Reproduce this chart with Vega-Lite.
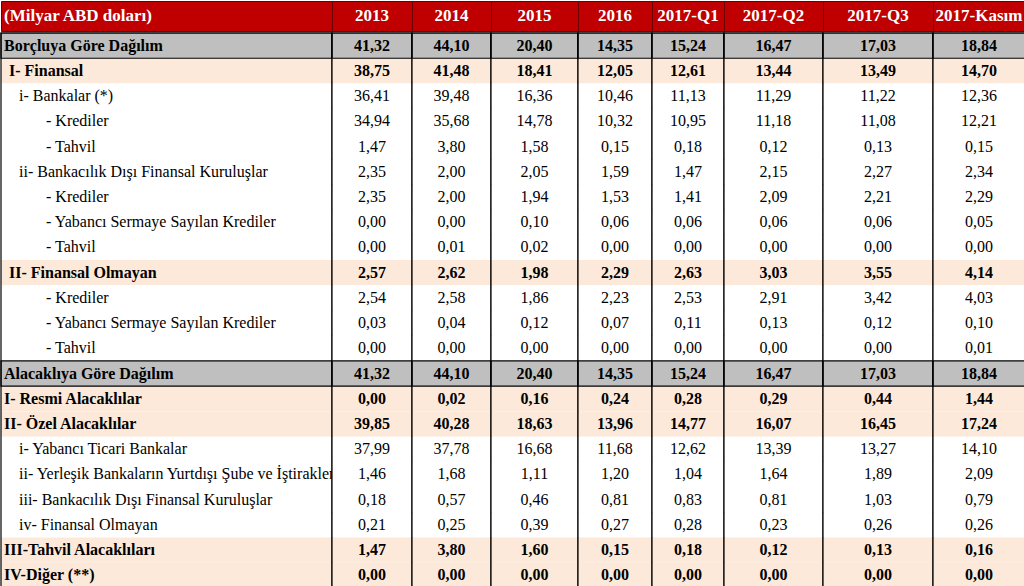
{
"$schema": "https://vega.github.io/schema/vega-lite/v6.json",
"padding": 0,
"spacing": 0,
"config": {"font": "Liberation Serif", "concat": {"spacing": 0}, "view": {"stroke": null}, "locale": {"number": {"decimal": ",", "thousands": ".", "grouping": [3], "currency": ["", " TL"]}}, "text": {"font": "Liberation Serif", "fontSize": 16, "color": "#000"}},
"datasets": {"tbl": [
{"r":1,"label":"Borçluya Göre Dağılım","kind":"gray","level":0,"v13":41.32,"v14":44.10,"v15":20.40,"v16":14.35,"q1":15.24,"q2":16.47,"q3":17.03,"nov":18.84},
{"r":2,"label":"I- Finansal","kind":"peach","level":1,"v13":38.75,"v14":41.48,"v15":18.41,"v16":12.05,"q1":12.61,"q2":13.44,"q3":13.49,"nov":14.70},
{"r":3,"label":"i- Bankalar (*)","kind":"white","level":2,"v13":36.41,"v14":39.48,"v15":16.36,"v16":10.46,"q1":11.13,"q2":11.29,"q3":11.22,"nov":12.36},
{"r":4,"label":"- Krediler","kind":"white","level":3,"v13":34.94,"v14":35.68,"v15":14.78,"v16":10.32,"q1":10.95,"q2":11.18,"q3":11.08,"nov":12.21},
{"r":5,"label":"- Tahvil","kind":"white","level":3,"v13":1.47,"v14":3.80,"v15":1.58,"v16":0.15,"q1":0.18,"q2":0.12,"q3":0.13,"nov":0.15},
{"r":6,"label":"ii- Bankacılık Dışı Finansal Kuruluşlar","kind":"white","level":2,"v13":2.35,"v14":2.00,"v15":2.05,"v16":1.59,"q1":1.47,"q2":2.15,"q3":2.27,"nov":2.34},
{"r":7,"label":"- Krediler","kind":"white","level":3,"v13":2.35,"v14":2.00,"v15":1.94,"v16":1.53,"q1":1.41,"q2":2.09,"q3":2.21,"nov":2.29},
{"r":8,"label":"- Yabancı Sermaye Sayılan Krediler","kind":"white","level":3,"v13":0.00,"v14":0.00,"v15":0.10,"v16":0.06,"q1":0.06,"q2":0.06,"q3":0.06,"nov":0.05},
{"r":9,"label":"- Tahvil","kind":"white","level":3,"v13":0.00,"v14":0.01,"v15":0.02,"v16":0.00,"q1":0.00,"q2":0.00,"q3":0.00,"nov":0.00},
{"r":10,"label":"II- Finansal Olmayan","kind":"peach","level":1,"v13":2.57,"v14":2.62,"v15":1.98,"v16":2.29,"q1":2.63,"q2":3.03,"q3":3.55,"nov":4.14},
{"r":11,"label":"- Krediler","kind":"white","level":3,"v13":2.54,"v14":2.58,"v15":1.86,"v16":2.23,"q1":2.53,"q2":2.91,"q3":3.42,"nov":4.03},
{"r":12,"label":"- Yabancı Sermaye Sayılan Krediler","kind":"white","level":3,"v13":0.03,"v14":0.04,"v15":0.12,"v16":0.07,"q1":0.11,"q2":0.13,"q3":0.12,"nov":0.10},
{"r":13,"label":"- Tahvil","kind":"white","level":3,"v13":0.00,"v14":0.00,"v15":0.00,"v16":0.00,"q1":0.00,"q2":0.00,"q3":0.00,"nov":0.01},
{"r":14,"label":"Alacaklıya Göre Dağılım","kind":"gray","level":0,"v13":41.32,"v14":44.10,"v15":20.40,"v16":14.35,"q1":15.24,"q2":16.47,"q3":17.03,"nov":18.84},
{"r":15,"label":"I- Resmi Alacaklılar","kind":"peach","level":0,"v13":0.00,"v14":0.02,"v15":0.16,"v16":0.24,"q1":0.28,"q2":0.29,"q3":0.44,"nov":1.44},
{"r":16,"label":"II- Özel Alacaklılar","kind":"peach","level":0,"v13":39.85,"v14":40.28,"v15":18.63,"v16":13.96,"q1":14.77,"q2":16.07,"q3":16.45,"nov":17.24},
{"r":17,"label":"i- Yabancı Ticari Bankalar","kind":"white","level":2,"v13":37.99,"v14":37.78,"v15":16.68,"v16":11.68,"q1":12.62,"q2":13.39,"q3":13.27,"nov":14.10},
{"r":18,"label":"ii- Yerleşik Bankaların Yurtdışı Şube ve İştirakleri","kind":"white","level":2,"v13":1.46,"v14":1.68,"v15":1.11,"v16":1.20,"q1":1.04,"q2":1.64,"q3":1.89,"nov":2.09},
{"r":19,"label":"iii- Bankacılık Dışı Finansal Kuruluşlar","kind":"white","level":2,"v13":0.18,"v14":0.57,"v15":0.46,"v16":0.81,"q1":0.83,"q2":0.81,"q3":1.03,"nov":0.79},
{"r":20,"label":"iv- Finansal Olmayan","kind":"white","level":2,"v13":0.21,"v14":0.25,"v15":0.39,"v16":0.27,"q1":0.28,"q2":0.23,"q3":0.26,"nov":0.26},
{"r":21,"label":"III-Tahvil Alacaklıları","kind":"peach","level":0,"v13":1.47,"v14":3.80,"v15":1.60,"v16":0.15,"q1":0.18,"q2":0.12,"q3":0.13,"nov":0.16},
{"r":22,"label":"IV-Diğer (**)","kind":"peach","level":0,"v13":0.00,"v14":0.00,"v15":0.00,"v16":0.00,"q1":0.00,"q2":0.00,"q3":0.00,"nov":0.00}
]},
"vconcat": [
{"spacing": 0, "bounds": "flush", "hconcat": [
{"width":331,"height":30,"data":{"values":[{"h":"(Milyar ABD doları)"}]},"view":{"fill":"#c00000","stroke":"#6a0000"},"mark":{"type":"text","font":"Liberation Serif","fontSize":17,"color":"#fff","fontWeight":"bold","align":"left","dx":3},"encoding":{"x":{"value":0},"text":{"field":"h"}}},
{"width":80,"height":30,"data":{"values":[{"h":"2013"}]},"view":{"fill":"#c00000","stroke":"#6a0000"},"mark":{"type":"text","font":"Liberation Serif","fontSize":17,"color":"#fff","fontWeight":"bold"},"encoding":{"text":{"field":"h"}}},
{"width":79,"height":30,"data":{"values":[{"h":"2014"}]},"view":{"fill":"#c00000","stroke":"#6a0000"},"mark":{"type":"text","font":"Liberation Serif","fontSize":17,"color":"#fff","fontWeight":"bold"},"encoding":{"text":{"field":"h"}}},
{"width":87,"height":30,"data":{"values":[{"h":"2015"}]},"view":{"fill":"#c00000","stroke":"#6a0000"},"mark":{"type":"text","font":"Liberation Serif","fontSize":17,"color":"#fff","fontWeight":"bold"},"encoding":{"text":{"field":"h"}}},
{"width":74,"height":30,"data":{"values":[{"h":"2016"}]},"view":{"fill":"#c00000","stroke":"#6a0000"},"mark":{"type":"text","font":"Liberation Serif","fontSize":17,"color":"#fff","fontWeight":"bold"},"encoding":{"text":{"field":"h"}}},
{"width":72,"height":30,"data":{"values":[{"h":"2017-Q1"}]},"view":{"fill":"#c00000","stroke":"#6a0000"},"mark":{"type":"text","font":"Liberation Serif","fontSize":17,"color":"#fff","fontWeight":"bold"},"encoding":{"text":{"field":"h"}}},
{"width":99,"height":30,"data":{"values":[{"h":"2017-Q2"}]},"view":{"fill":"#c00000","stroke":"#6a0000"},"mark":{"type":"text","font":"Liberation Serif","fontSize":17,"color":"#fff","fontWeight":"bold"},"encoding":{"text":{"field":"h"}}},
{"width":110,"height":30,"data":{"values":[{"h":"2017-Q3"}]},"view":{"fill":"#c00000","stroke":"#6a0000"},"mark":{"type":"text","font":"Liberation Serif","fontSize":17,"color":"#fff","fontWeight":"bold"},"encoding":{"text":{"field":"h"}}},
{"width":92,"height":30,"data":{"values":[{"h":"2017-Kasım"}]},"view":{"fill":"#c00000","stroke":"#6a0000"},"mark":{"type":"text","font":"Liberation Serif","fontSize":17,"color":"#fff","fontWeight":"bold"},"encoding":{"text":{"field":"h"}}}
]},
{"spacing": 0, "bounds": "flush", "hconcat": [
{"width":331,"height":555,"data":{"name":"tbl"},"layer":[
 {"mark":"rect","encoding":{"y":{"field":"r","type":"ordinal","axis":null,"scale":{"paddingInner":0,"paddingOuter":0}},"fill":{"field":"kind","type":"nominal","scale":{"domain":["gray","peach","white"],"range":["#bfbfbf","#fde9d9","#ffffff"]},"legend":null}}},
 {"transform":[{"filter":"datum.kind=='gray'"}],"mark":{"type":"rect","fill":"transparent","stroke":"#000","strokeWidth":1.2},"encoding":{"y":{"field":"r","type":"ordinal","axis":null}}},
 {"transform":[{"filter":"datum.kind!='white'"}],"mark":{"type":"text","font":"Liberation Serif","fontSize":16,"fontWeight":"bold","align":"left","clip":true},"encoding":{"y":{"field":"r","type":"ordinal","axis":null},"x":{"field":"level","type":"quantitative","axis":null,"scale":{"domain":[0,1,2,3],"range":[3,8,18,45]}},"text":{"field":"label"}}},
 {"transform":[{"filter":"datum.kind=='white'"}],"mark":{"type":"text","font":"Liberation Serif, Times New Roman, DejaVu Serif, serif","fontSize":16,"fontWeight":"normal","align":"left","clip":true},"encoding":{"y":{"field":"r","type":"ordinal","axis":null},"x":{"field":"level","type":"quantitative","axis":null},"text":{"field":"label"}}},
 {"data":{"values":[{"cell":1}]},"mark":{"type":"rect","fill":"transparent","stroke":"#000","strokeWidth":1.2}}
]},
{"width":80,"height":555,"data":{"name":"tbl"},"layer":[
 {"mark":"rect","encoding":{"y":{"field":"r","type":"ordinal","axis":null,"scale":{"paddingInner":0,"paddingOuter":0}},"fill":{"field":"kind","type":"nominal","scale":{"domain":["gray","peach","white"],"range":["#bfbfbf","#fde9d9","#ffffff"]},"legend":null}}},
 {"transform":[{"filter":"datum.kind=='gray'"}],"mark":{"type":"rect","fill":"transparent","stroke":"#000","strokeWidth":1.2},"encoding":{"y":{"field":"r","type":"ordinal","axis":null}}},
 {"transform":[{"filter":"datum.kind!='white'"}],"mark":{"type":"text","font":"Liberation Serif","fontSize":16,"fontWeight":"bold"},"encoding":{"y":{"field":"r","type":"ordinal","axis":null},"text":{"field":"v13","type":"quantitative","format":".2f"}}},
 {"transform":[{"filter":"datum.kind=='white'"}],"mark":{"type":"text","font":"Liberation Serif, Times New Roman, DejaVu Serif, serif","fontSize":16,"fontWeight":"normal"},"encoding":{"y":{"field":"r","type":"ordinal","axis":null},"text":{"field":"v13","type":"quantitative","format":".2f"}}},
 {"data":{"values":[{"cell":1}]},"mark":{"type":"rect","fill":"transparent","stroke":"#000","strokeWidth":1.2}}
]},
{"width":79,"height":555,"data":{"name":"tbl"},"layer":[
 {"mark":"rect","encoding":{"y":{"field":"r","type":"ordinal","axis":null,"scale":{"paddingInner":0,"paddingOuter":0}},"fill":{"field":"kind","type":"nominal","scale":{"domain":["gray","peach","white"],"range":["#bfbfbf","#fde9d9","#ffffff"]},"legend":null}}},
 {"transform":[{"filter":"datum.kind=='gray'"}],"mark":{"type":"rect","fill":"transparent","stroke":"#000","strokeWidth":1.2},"encoding":{"y":{"field":"r","type":"ordinal","axis":null}}},
 {"transform":[{"filter":"datum.kind!='white'"}],"mark":{"type":"text","font":"Liberation Serif","fontSize":16,"fontWeight":"bold"},"encoding":{"y":{"field":"r","type":"ordinal","axis":null},"text":{"field":"v14","type":"quantitative","format":".2f"}}},
 {"transform":[{"filter":"datum.kind=='white'"}],"mark":{"type":"text","font":"Liberation Serif, Times New Roman, DejaVu Serif, serif","fontSize":16,"fontWeight":"normal"},"encoding":{"y":{"field":"r","type":"ordinal","axis":null},"text":{"field":"v14","type":"quantitative","format":".2f"}}},
 {"data":{"values":[{"cell":1}]},"mark":{"type":"rect","fill":"transparent","stroke":"#000","strokeWidth":1.2}}
]},
{"width":87,"height":555,"data":{"name":"tbl"},"layer":[
 {"mark":"rect","encoding":{"y":{"field":"r","type":"ordinal","axis":null,"scale":{"paddingInner":0,"paddingOuter":0}},"fill":{"field":"kind","type":"nominal","scale":{"domain":["gray","peach","white"],"range":["#bfbfbf","#fde9d9","#ffffff"]},"legend":null}}},
 {"transform":[{"filter":"datum.kind=='gray'"}],"mark":{"type":"rect","fill":"transparent","stroke":"#000","strokeWidth":1.2},"encoding":{"y":{"field":"r","type":"ordinal","axis":null}}},
 {"transform":[{"filter":"datum.kind!='white'"}],"mark":{"type":"text","font":"Liberation Serif","fontSize":16,"fontWeight":"bold"},"encoding":{"y":{"field":"r","type":"ordinal","axis":null},"text":{"field":"v15","type":"quantitative","format":".2f"}}},
 {"transform":[{"filter":"datum.kind=='white'"}],"mark":{"type":"text","font":"Liberation Serif, Times New Roman, DejaVu Serif, serif","fontSize":16,"fontWeight":"normal"},"encoding":{"y":{"field":"r","type":"ordinal","axis":null},"text":{"field":"v15","type":"quantitative","format":".2f"}}},
 {"data":{"values":[{"cell":1}]},"mark":{"type":"rect","fill":"transparent","stroke":"#000","strokeWidth":1.2}}
]},
{"width":74,"height":555,"data":{"name":"tbl"},"layer":[
 {"mark":"rect","encoding":{"y":{"field":"r","type":"ordinal","axis":null,"scale":{"paddingInner":0,"paddingOuter":0}},"fill":{"field":"kind","type":"nominal","scale":{"domain":["gray","peach","white"],"range":["#bfbfbf","#fde9d9","#ffffff"]},"legend":null}}},
 {"transform":[{"filter":"datum.kind=='gray'"}],"mark":{"type":"rect","fill":"transparent","stroke":"#000","strokeWidth":1.2},"encoding":{"y":{"field":"r","type":"ordinal","axis":null}}},
 {"transform":[{"filter":"datum.kind!='white'"}],"mark":{"type":"text","font":"Liberation Serif","fontSize":16,"fontWeight":"bold"},"encoding":{"y":{"field":"r","type":"ordinal","axis":null},"text":{"field":"v16","type":"quantitative","format":".2f"}}},
 {"transform":[{"filter":"datum.kind=='white'"}],"mark":{"type":"text","font":"Liberation Serif, Times New Roman, DejaVu Serif, serif","fontSize":16,"fontWeight":"normal"},"encoding":{"y":{"field":"r","type":"ordinal","axis":null},"text":{"field":"v16","type":"quantitative","format":".2f"}}},
 {"data":{"values":[{"cell":1}]},"mark":{"type":"rect","fill":"transparent","stroke":"#000","strokeWidth":1.2}}
]},
{"width":72,"height":555,"data":{"name":"tbl"},"layer":[
 {"mark":"rect","encoding":{"y":{"field":"r","type":"ordinal","axis":null,"scale":{"paddingInner":0,"paddingOuter":0}},"fill":{"field":"kind","type":"nominal","scale":{"domain":["gray","peach","white"],"range":["#bfbfbf","#fde9d9","#ffffff"]},"legend":null}}},
 {"transform":[{"filter":"datum.kind=='gray'"}],"mark":{"type":"rect","fill":"transparent","stroke":"#000","strokeWidth":1.2},"encoding":{"y":{"field":"r","type":"ordinal","axis":null}}},
 {"transform":[{"filter":"datum.kind!='white'"}],"mark":{"type":"text","font":"Liberation Serif","fontSize":16,"fontWeight":"bold"},"encoding":{"y":{"field":"r","type":"ordinal","axis":null},"text":{"field":"q1","type":"quantitative","format":".2f"}}},
 {"transform":[{"filter":"datum.kind=='white'"}],"mark":{"type":"text","font":"Liberation Serif, Times New Roman, DejaVu Serif, serif","fontSize":16,"fontWeight":"normal"},"encoding":{"y":{"field":"r","type":"ordinal","axis":null},"text":{"field":"q1","type":"quantitative","format":".2f"}}},
 {"data":{"values":[{"cell":1}]},"mark":{"type":"rect","fill":"transparent","stroke":"#000","strokeWidth":1.2}}
]},
{"width":99,"height":555,"data":{"name":"tbl"},"layer":[
 {"mark":"rect","encoding":{"y":{"field":"r","type":"ordinal","axis":null,"scale":{"paddingInner":0,"paddingOuter":0}},"fill":{"field":"kind","type":"nominal","scale":{"domain":["gray","peach","white"],"range":["#bfbfbf","#fde9d9","#ffffff"]},"legend":null}}},
 {"transform":[{"filter":"datum.kind=='gray'"}],"mark":{"type":"rect","fill":"transparent","stroke":"#000","strokeWidth":1.2},"encoding":{"y":{"field":"r","type":"ordinal","axis":null}}},
 {"transform":[{"filter":"datum.kind!='white'"}],"mark":{"type":"text","font":"Liberation Serif","fontSize":16,"fontWeight":"bold"},"encoding":{"y":{"field":"r","type":"ordinal","axis":null},"text":{"field":"q2","type":"quantitative","format":".2f"}}},
 {"transform":[{"filter":"datum.kind=='white'"}],"mark":{"type":"text","font":"Liberation Serif, Times New Roman, DejaVu Serif, serif","fontSize":16,"fontWeight":"normal"},"encoding":{"y":{"field":"r","type":"ordinal","axis":null},"text":{"field":"q2","type":"quantitative","format":".2f"}}},
 {"data":{"values":[{"cell":1}]},"mark":{"type":"rect","fill":"transparent","stroke":"#000","strokeWidth":1.2}}
]},
{"width":110,"height":555,"data":{"name":"tbl"},"layer":[
 {"mark":"rect","encoding":{"y":{"field":"r","type":"ordinal","axis":null,"scale":{"paddingInner":0,"paddingOuter":0}},"fill":{"field":"kind","type":"nominal","scale":{"domain":["gray","peach","white"],"range":["#bfbfbf","#fde9d9","#ffffff"]},"legend":null}}},
 {"transform":[{"filter":"datum.kind=='gray'"}],"mark":{"type":"rect","fill":"transparent","stroke":"#000","strokeWidth":1.2},"encoding":{"y":{"field":"r","type":"ordinal","axis":null}}},
 {"transform":[{"filter":"datum.kind!='white'"}],"mark":{"type":"text","font":"Liberation Serif","fontSize":16,"fontWeight":"bold"},"encoding":{"y":{"field":"r","type":"ordinal","axis":null},"text":{"field":"q3","type":"quantitative","format":".2f"}}},
 {"transform":[{"filter":"datum.kind=='white'"}],"mark":{"type":"text","font":"Liberation Serif, Times New Roman, DejaVu Serif, serif","fontSize":16,"fontWeight":"normal"},"encoding":{"y":{"field":"r","type":"ordinal","axis":null},"text":{"field":"q3","type":"quantitative","format":".2f"}}},
 {"data":{"values":[{"cell":1}]},"mark":{"type":"rect","fill":"transparent","stroke":"#000","strokeWidth":1.2}}
]},
{"width":92,"height":555,"data":{"name":"tbl"},"layer":[
 {"mark":"rect","encoding":{"y":{"field":"r","type":"ordinal","axis":null,"scale":{"paddingInner":0,"paddingOuter":0}},"fill":{"field":"kind","type":"nominal","scale":{"domain":["gray","peach","white"],"range":["#bfbfbf","#fde9d9","#ffffff"]},"legend":null}}},
 {"transform":[{"filter":"datum.kind=='gray'"}],"mark":{"type":"rect","fill":"transparent","stroke":"#000","strokeWidth":1.2},"encoding":{"y":{"field":"r","type":"ordinal","axis":null}}},
 {"transform":[{"filter":"datum.kind!='white'"}],"mark":{"type":"text","font":"Liberation Serif","fontSize":16,"fontWeight":"bold"},"encoding":{"y":{"field":"r","type":"ordinal","axis":null},"text":{"field":"nov","type":"quantitative","format":".2f"}}},
 {"transform":[{"filter":"datum.kind=='white'"}],"mark":{"type":"text","font":"Liberation Serif, Times New Roman, DejaVu Serif, serif","fontSize":16,"fontWeight":"normal"},"encoding":{"y":{"field":"r","type":"ordinal","axis":null},"text":{"field":"nov","type":"quantitative","format":".2f"}}},
 {"data":{"values":[{"cell":1}]},"mark":{"type":"rect","fill":"transparent","stroke":"#000","strokeWidth":1.2}}
]}
]}
]
}
